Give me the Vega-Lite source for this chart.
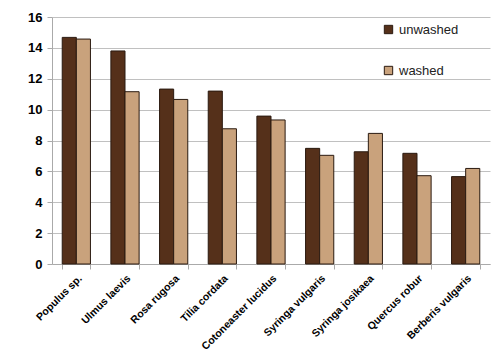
{
  "$schema": "https://vega.github.io/schema/vega-lite/v6.json",
  "autosize": {"type": "none"},
  "padding": {"left": 52, "top": 17, "right": 3, "bottom": 99},
  "width": 438,
  "height": 247,
  "background": "white",
  "data": {"values": [
    {"species": "Populus sp.", "treatment": "unwashed", "value": 14.68},
    {"species": "Populus sp.", "treatment": "washed", "value": 14.57},
    {"species": "Ulmus laevis", "treatment": "unwashed", "value": 13.8},
    {"species": "Ulmus laevis", "treatment": "washed", "value": 11.16},
    {"species": "Rosa rugosa", "treatment": "unwashed", "value": 11.33},
    {"species": "Rosa rugosa", "treatment": "washed", "value": 10.66},
    {"species": "Tilia cordata", "treatment": "unwashed", "value": 11.2},
    {"species": "Tilia cordata", "treatment": "washed", "value": 8.76},
    {"species": "Cotoneaster lucidus", "treatment": "unwashed", "value": 9.58},
    {"species": "Cotoneaster lucidus", "treatment": "washed", "value": 9.33},
    {"species": "Syringa vulgaris", "treatment": "unwashed", "value": 7.49},
    {"species": "Syringa vulgaris", "treatment": "washed", "value": 7.04},
    {"species": "Syringa josikaea", "treatment": "unwashed", "value": 7.27},
    {"species": "Syringa josikaea", "treatment": "washed", "value": 8.46},
    {"species": "Quercus robur", "treatment": "unwashed", "value": 7.17},
    {"species": "Quercus robur", "treatment": "washed", "value": 5.72},
    {"species": "Berberis vulgaris", "treatment": "unwashed", "value": 5.66},
    {"species": "Berberis vulgaris", "treatment": "washed", "value": 6.19}
  ]},
  "mark": {"type": "bar", "stroke": "#2a1a10", "strokeWidth": 1},
  "encoding": {
    "x": {
      "field": "species", "type": "nominal", "sort": null,
      "scale": {"paddingInner": 0.42, "paddingOuter": 0.21},
      "axis": {
        "title": null, "labelAngle": -45, "labelAlign": "right", "labelBaseline": "top",
        "labelFont": "Liberation Sans", "labelFontWeight": "bold", "labelFontSize": 10.5,
        "labelColor": "#000", "tickBand": "extent", "tickSize": 5, "tickColor": "#aaa",
        "domainColor": "#aaa", "labelPadding": 4, "grid": false
      }
    },
    "xOffset": {"field": "treatment", "type": "nominal", "sort": ["unwashed", "washed"]},
    "y": {
      "field": "value", "type": "quantitative",
      "scale": {"domain": [0, 16], "nice": false},
      "axis": {
        "title": null, "values": [0, 2, 4, 6, 8, 10, 12, 14, 16],
        "labelFont": "Liberation Sans", "labelFontWeight": "bold", "labelFontSize": 13,
        "labelColor": "#000", "tickSize": 5, "tickColor": "#aaa", "domainColor": "#aaa",
        "labelPadding": 5, "grid": true, "gridColor": "#c0c0c0"
      }
    },
    "color": {
      "field": "treatment", "type": "nominal", "sort": ["unwashed", "washed"],
      "scale": {"domain": ["unwashed", "washed"], "range": ["#55301a", "#c9a27c"]},
      "legend": {
        "title": null, "orient": "none", "legendX": 330, "legendY": 6,
        "direction": "vertical", "symbolType": "square", "symbolSize": 70,
        "symbolStrokeColor": "#2a1a10", "symbolStrokeWidth": 1,
        "labelFont": "Liberation Sans", "labelFontSize": 13, "labelColor": "#222",
        "rowPadding": 27, "labelOffset": 4
      }
    }
  },
  "config": {"view": {"stroke": null}}
}
